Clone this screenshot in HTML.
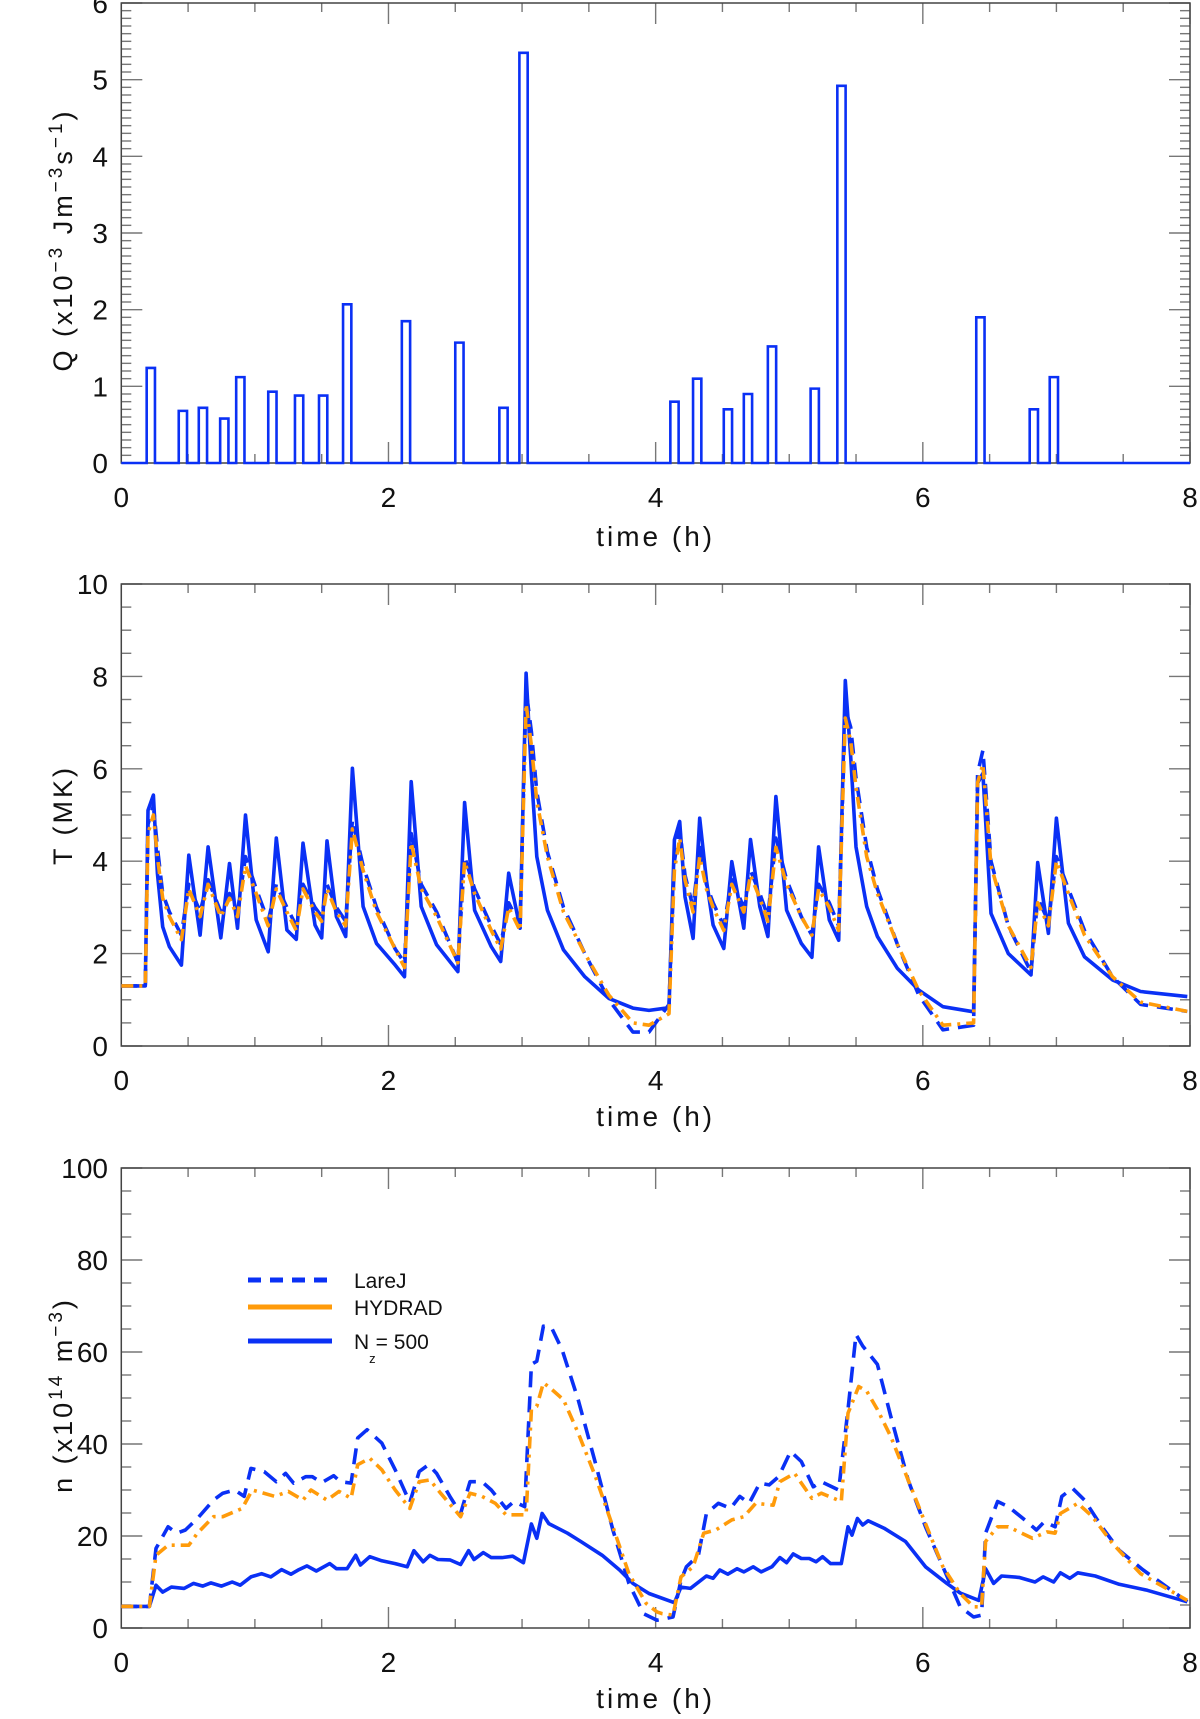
<!DOCTYPE html>
<html><head><meta charset="utf-8"><style>
html,body{margin:0;padding:0;background:#fff;}
svg{display:block;font-family:"Liberation Sans",sans-serif;}
</style></head><body>
<svg id="fig" width="1200" height="1719" viewBox="0 0 1200 1719" xmlns="http://www.w3.org/2000/svg"></svg>
<script>
// ---------- DATA ----------
const xTickLabels = ["0","2","4","6","8"];
const qTickLabels = ["0","1","2","3","4","5","6"];
const tTickLabels = ["0","2","4","6","8","10"];
const nTickLabels = ["0","20","40","60","80","100"];

// Panel 1: heating pulses (start time in h, amplitude x1e-3 J m^-3 s^-1)
const barStart = [0.19,0.43,0.58,0.74,0.86,1.10,1.30,1.48,1.66,2.10,2.50,2.83,2.98,4.11,4.28,4.51,4.66,4.84,5.16,5.36,6.40,6.80,6.95];
const barHeight = [1.24,0.68,0.72,0.58,1.12,0.93,0.88,0.88,2.07,1.85,1.57,0.72,5.35,0.80,1.10,0.70,0.90,1.52,0.97,4.92,1.90,0.70,1.12];

// Panel 2: temperature (MK)
const tTime = [0,0.18,0.2,0.24,0.27,0.31,0.36,0.45,0.505,0.59,
 0.65,0.745,0.81,0.87,0.93,1.01,1.10,1.16,1.24,1.31,
 1.36,1.45,1.50,1.54,1.61,1.68,1.73,1.81,1.91,2.05,
 2.12,2.17,2.245,2.36,2.52,2.57,2.645,2.77,2.84,2.90,
 2.985,3.03,3.07,3.11,3.19,3.31,3.47,3.65,3.83,3.95,
 4.10,4.14,4.18,4.22,4.28,4.33,4.38,4.43,4.51,4.57,
 4.66,4.71,4.78,4.84,4.90,4.98,5.09,5.17,5.22,5.30,
 5.37,5.42,5.46,5.50,5.58,5.66,5.81,5.97,6.15,6.38,
 6.41,6.45,6.51,6.64,6.81,6.86,6.94,7.0,7.09,7.21,
 7.42,7.63,7.98];
const tNz500 = [1.3,1.3,5.1,5.43,3.74,2.58,2.15,1.75,4.13,2.4,
 4.31,2.34,3.95,2.55,5.0,2.73,2.04,4.5,2.51,2.31,
 4.39,2.62,2.34,4.44,2.8,2.37,6.01,3.02,2.22,1.75,
 1.5,5.72,3.02,2.19,1.61,5.27,2.94,2.15,1.83,3.74,
 2.55,8.07,5.9,4.1,2.94,2.08,1.5,1.03,0.82,0.77,
 0.83,4.46,4.86,3.23,2.33,4.93,3.59,2.62,2.11,3.99,
 2.55,4.47,3.02,2.37,5.40,2.94,2.22,1.92,4.31,2.73,
 2.29,7.91,6.26,4.31,3.02,2.37,1.68,1.21,0.85,0.74,
 5.69,5.9,2.87,2.0,1.54,3.97,2.44,4.93,2.66,1.93,
 1.43,1.18,1.07];
const tLareJ = [1.3,1.3,4.8,5.2,4.3,3.3,2.9,2.4,3.5,2.9,
 3.6,2.9,3.3,2.9,4.1,3.4,2.7,3.5,3.0,2.6,
 3.5,3.0,2.8,3.5,3.0,2.7,4.9,3.9,3.0,2.1,
 1.8,4.6,3.5,2.9,1.8,4.1,3.4,2.6,2.2,3.1,
 2.6,7.7,6.8,5.5,4.2,3.0,2.0,1.0,0.3,0.3,
 0.9,4.0,4.7,3.7,3.0,4.3,3.5,3.1,2.6,3.6,
 3.0,3.8,3.3,2.8,4.5,3.6,2.8,2.4,3.5,3.1,
 2.6,7.3,6.9,5.8,4.3,3.4,2.2,1.1,0.35,0.45,
 5.9,6.4,4.0,2.6,1.6,3.2,2.7,4.1,3.4,2.5,
 1.5,0.9,0.75];
const tHydrad = [1.3,1.3,4.6,5.0,4.1,3.2,2.8,2.3,3.4,2.8,
 3.5,2.8,3.2,2.8,3.9,3.3,2.6,3.4,2.9,2.5,
 3.4,2.9,2.7,3.4,2.9,2.6,4.7,3.8,2.9,2.1,
 1.7,4.4,3.4,2.8,1.8,4.0,3.3,2.5,2.1,3.0,
 2.5,7.4,6.5,5.3,4.1,2.9,2.0,1.1,0.5,0.45,
 0.7,3.8,4.5,3.6,2.9,4.1,3.4,3.0,2.5,3.5,
 2.9,3.7,3.2,2.7,4.3,3.5,2.8,2.4,3.4,3.0,
 2.5,7.1,6.6,5.6,4.1,3.3,2.2,1.2,0.45,0.5,
 5.7,6.1,3.9,2.6,1.7,3.1,2.6,4.0,3.3,2.4,
 1.5,0.95,0.75];

// Panel 3: density (x1e14 m^-3)
const nNzTime = [0,0.21,0.26,0.31,0.375,0.47,0.54,0.61,0.67,0.75,0.83,0.89,0.97,1.05,1.12,1.2,1.27,1.33,1.39,1.46,1.56,1.61,1.69,1.755,1.79,1.86,1.95,2.05,2.14,2.19,2.26,2.31,2.37,2.46,2.54,2.60,2.64,2.71,2.77,2.85,2.93,3.01,3.07,3.11,3.15,3.20,3.34,3.44,3.60,3.73,3.83,3.95,
 4.14,4.19,4.26,4.38,4.43,4.48,4.54,4.61,4.66,4.73,4.79,4.87,4.93,4.98,5.03,5.09,5.15,5.20,5.25,5.31,5.39,5.44,5.47,5.51,5.55,5.59,5.71,5.87,6.02,6.18,6.28,6.42,6.47,6.53,6.59,6.72,6.84,6.90,6.98,7.03,7.10,7.16,7.29,7.47,7.68,7.98];
const nNz500 = [4.7,4.7,9.3,7.8,8.9,8.6,9.7,9.1,9.8,9.1,10.0,9.3,11.1,11.8,11.1,12.7,11.7,12.7,13.5,12.4,14.0,12.9,12.9,15.8,13.7,15.5,14.6,14.0,13.3,16.8,14.4,15.8,14.9,14.8,13.8,16.8,14.9,16.4,15.3,15.3,15.6,14.2,22.6,19.5,24.9,22.7,20.6,18.8,15.8,12.6,9.7,7.5,
 5.5,8.9,8.6,11.3,10.8,12.6,11.7,12.9,12.2,13.3,12.2,13.3,15.3,14.2,16.1,15.1,15.1,14.4,15.5,14.0,14.0,22.0,20.2,23.8,22.4,23.3,21.7,18.8,13.3,9.7,7.6,6.0,12.9,9.7,11.3,11.0,10.0,11.1,10.0,12.0,10.8,12.0,11.3,9.5,8.2,5.7];
const nLareJTime = [0,0.21,0.26,0.35,0.415,0.48,0.57,0.69,0.76,0.85,0.92,0.97,1.07,1.16,1.23,1.29,1.38,1.43,1.50,1.59,1.64,1.72,1.77,1.84,1.95,2.05,2.16,2.23,2.30,2.36,2.46,2.54,2.61,2.70,2.77,2.88,2.94,3.02,3.07,3.11,3.16,3.22,3.30,3.42,3.55,3.68,3.80,3.91,4.01,
 4.13,4.19,4.23,4.32,4.38,4.47,4.56,4.63,4.70,4.78,4.85,4.92,5.01,5.09,5.18,5.24,5.37,5.44,5.50,5.55,5.66,5.76,5.89,6.02,6.15,6.28,6.38,6.44,6.47,6.56,6.64,6.78,6.85,6.91,6.99,7.04,7.12,7.21,7.34,7.47,7.65,7.98];
const nLareJ = [4.7,4.7,17.3,22.0,20.6,21.3,23.8,27.8,29.3,30.0,28.6,34.7,34.0,31.8,33.6,31.5,32.9,32.9,31.6,33.1,31.8,31.5,41.3,43.1,40.2,34.4,27.3,34.0,35.5,33.6,28.6,24.9,31.8,31.8,30.0,26.0,27.5,26.4,57.3,58.0,65.6,65.3,60.5,49.6,35.8,21.3,9.7,3.1,1.7,
 2.4,10.4,13.3,15.8,24.9,27.1,26.0,28.6,27.1,31.5,31.1,32.9,38.4,36.2,30.7,31.8,30.0,47.5,63.8,61.3,57.3,46.0,32.2,22.0,13.3,4.6,2.4,2.8,20.6,27.5,26.4,23.1,21.3,23.1,22.0,28.6,30.4,27.8,22.0,16.9,12.6,5.7];
const nHydradTime = [0,0.21,0.26,0.35,0.505,0.57,0.69,0.76,0.905,0.98,1.15,1.25,1.36,1.42,1.54,1.63,1.72,1.77,1.86,1.95,2.05,2.16,2.23,2.31,2.39,2.54,2.61,2.70,2.80,2.88,3.03,3.07,3.11,3.16,3.21,3.31,3.42,3.55,3.68,3.80,3.93,4.01,
 4.05,4.13,4.19,4.28,4.36,4.45,4.57,4.66,4.75,4.88,4.93,5.04,5.17,5.24,5.39,5.44,5.52,5.58,5.66,5.76,5.89,6.02,6.15,6.28,6.38,6.44,6.47,6.56,6.64,6.82,6.93,6.99,7.03,7.16,7.27,7.42,7.63,7.98];
const nHydrad = [4.7,4.7,15.8,18.0,18.0,20.6,24.2,24.2,26.0,30.0,28.6,29.7,27.8,30.0,27.8,29.7,28.2,35.5,36.9,34.4,30.0,26.0,31.8,32.2,29.3,24.2,29.3,28.6,27.1,24.6,24.6,47.5,48.2,53.3,52.2,49.6,42.4,32.9,22.0,11.8,5.3,3.5,
 3.1,2.8,11.1,13.3,20.6,21.3,23.5,24.2,27.1,26.7,31.8,33.6,28.2,29.3,27.5,46.7,52.5,51.5,47.5,41.6,32.2,22.7,13.3,7.5,4.6,4.6,18.8,22.0,22.0,19.5,20.9,20.6,24.9,27.1,24.2,18.4,11.8,6.0];

// ---------- DRAWING ----------
const NS = "http://www.w3.org/2000/svg";
const svg = document.getElementById("fig");
const BLUE = "#0a30f5", ORANGE = "#ff9b0a";
const X0 = 121.3, X1 = 1190;
function xS(t){ return X0 + (t/8)*(X1-X0); }
function mk(tag, attrs, parent){
  const e = document.createElementNS(NS, tag);
  for (const k in attrs) e.setAttribute(k, attrs[k]);
  (parent||svg).appendChild(e);
  return e;
}
function txt(s, x, y, size, anchor, parent){
  const e = mk("text", {x:x, y:y, "font-size":size, "text-anchor":anchor||"middle", fill:"#111"}, parent);
  e.textContent = s;
  return e;
}
const panels = [
  {name:"q-panel", top:3, bot:463, ymax:6, major:1, minor:0.1, labels:qTickLabels, labY:497, titleY:536},
  {name:"t-panel", top:584, bot:1046, ymax:10, major:2, minor:0.5, labels:tTickLabels, labY:1080, titleY:1116},
  {name:"n-panel", top:1168, bot:1628, ymax:100, major:20, minor:5, labels:nTickLabels, labY:1662, titleY:1698}
];
panels.forEach(p => { p.y = v => p.bot - (v/p.ymax)*(p.bot-p.top); });

panels.forEach((p) => {
  const g = mk("g", {});
  
  
  const nMinor = Math.round(p.ymax/p.minor);
  for (let i=0;i<=nMinor;i++){
    const v = i*p.minor;
    const isMaj = Math.abs(v/p.major - Math.round(v/p.major))<1e-6;
    const L = isMaj ? 21 : 10;
    const yy = p.y(v);
    mk("line",{x1:X0,x2:X0+L,y1:yy,y2:yy,stroke:"#777","stroke-width":1.4},g);
    mk("line",{x1:X1,x2:X1-L,y1:yy,y2:yy,stroke:"#777","stroke-width":1.4},g);
  }
  p.labels.forEach((s,i)=>{
    const t = txt(s, 108, p.y(i*p.major)+10, 28, "end", g);
    
    
  });
  for (let i=0;i<=16;i++){
    const t = i*0.5, isMaj = (i%4===0);
    const L = isMaj ? 21 : 9;
    mk("line",{x1:xS(t),x2:xS(t),y1:p.bot,y2:p.bot-L,stroke:"#777","stroke-width":1.4},g);
    mk("line",{x1:xS(t),x2:xS(t),y1:p.top,y2:p.top+L,stroke:"#777","stroke-width":1.4},g);
  }
  xTickLabels.forEach((s,i)=>{
    const t = txt(s, xS(i*2), p.labY+10, 28, "middle", g);
    
    
  });
  const xt = txt("time (h)", (X0+X1)/2, p.titleY+10, 28, "middle", g);
  xt.setAttribute('letter-spacing','3');
  
  
  const fr = mk("rect",{x:X0,y:p.top,width:X1-X0,height:p.bot-p.top,fill:"none",stroke:"#444","stroke-width":1.5},g);
  
  
});

function yTitle(cy, parts, name){
  const t = mk("text",{transform:`translate(72,${cy}) rotate(-90)`,"font-size":27,"letter-spacing":"3","text-anchor":"middle",fill:"#111"});
  
  
  parts.forEach(pt=>{
    const s = mk("tspan",{}, t);
    if (pt[1]==="sup"){ s.setAttribute("baseline-shift","super"); s.setAttribute("font-size","19"); }
    s.textContent = pt[0];
  });
}
yTitle(240, [["Q (x10",""],["−3",'sup'],[" Jm",""],["−3","sup"],["s",""],["−1","sup"],[")",""]], "q-axis-title");
yTitle(815, [["T (MK)",""]], "t-axis-title");
yTitle(1395, [["n (x10",""],["14","sup"],[" m",""],["−3","sup"],[")",""]], "n-axis-title");

// Panel 1 bars
const P1 = panels[0];
const BW = 0.062;
let d = `M ${xS(0)} ${P1.y(0)}`;
barStart.forEach((s,i)=>{
  d += ` L ${xS(s)} ${P1.y(0)} L ${xS(s)} ${P1.y(barHeight[i])} L ${xS(s+BW)} ${P1.y(barHeight[i])} L ${xS(s+BW)} ${P1.y(0)}`;
});
d += ` L ${xS(8)} ${P1.y(0)}`;
const qp = mk("path",{d:d,fill:"none",stroke:BLUE,"stroke-width":2.6,"stroke-linejoin":"miter"});



function series(p, times, vals, color, dash, name){
  let dd = "";
  times.forEach((t,i)=>{ dd += (i?" L ":"M ") + xS(t).toFixed(1) + " " + p.y(vals[i]).toFixed(1); });
  const a = {d:dd,fill:"none",stroke:color,"stroke-width":3.6,"stroke-linejoin":"round"};
  if (dash) a["stroke-dasharray"] = dash;
  const e = mk("path", a);
  
  
}
const P2 = panels[1], P3 = panels[2];
series(P2, tTime, tNz500, BLUE, null, "t-nz500-line");
series(P2, tTime, tLareJ, BLUE, "16 9", "t-larej-line");
series(P2, tTime, tHydrad, ORANGE, "12 6 3 6", "t-hydrad-line");
series(P3, nNzTime, nNz500, BLUE, null, "n-nz500-line");
series(P3, nLareJTime, nLareJ, BLUE, "16 9", "n-larej-line");
series(P3, nHydradTime, nHydrad, ORANGE, "12 6 3 6", "n-hydrad-line");

// legend
const lg = mk("g",{});


const le1 = mk("line",{x1:248,x2:332,y1:1280,y2:1280,stroke:BLUE,"stroke-width":5,"stroke-dasharray":"13 9"},lg);


const le2 = mk("line",{x1:248,x2:332,y1:1307,y2:1307,stroke:ORANGE,"stroke-width":5},lg);


const le3 = mk("line",{x1:248,x2:332,y1:1341,y2:1341,stroke:BLUE,"stroke-width":5},lg);


const lt1 = txt("LareJ",354,1288,21,"start",lg);


const lt2 = txt("HYDRAD",354,1315,21,"start",lg);


const lt3 = mk("text",{x:354,y:1349,"font-size":21,fill:"#111"},lg);


const s1 = mk("tspan",{},lt3); s1.textContent = "N";
const s2 = mk("tspan",{dy:14,"font-size":13},lt3); s2.textContent = "z";
const s3 = mk("tspan",{dy:-14},lt3); s3.textContent = "= 500";
</script>
</body></html>
